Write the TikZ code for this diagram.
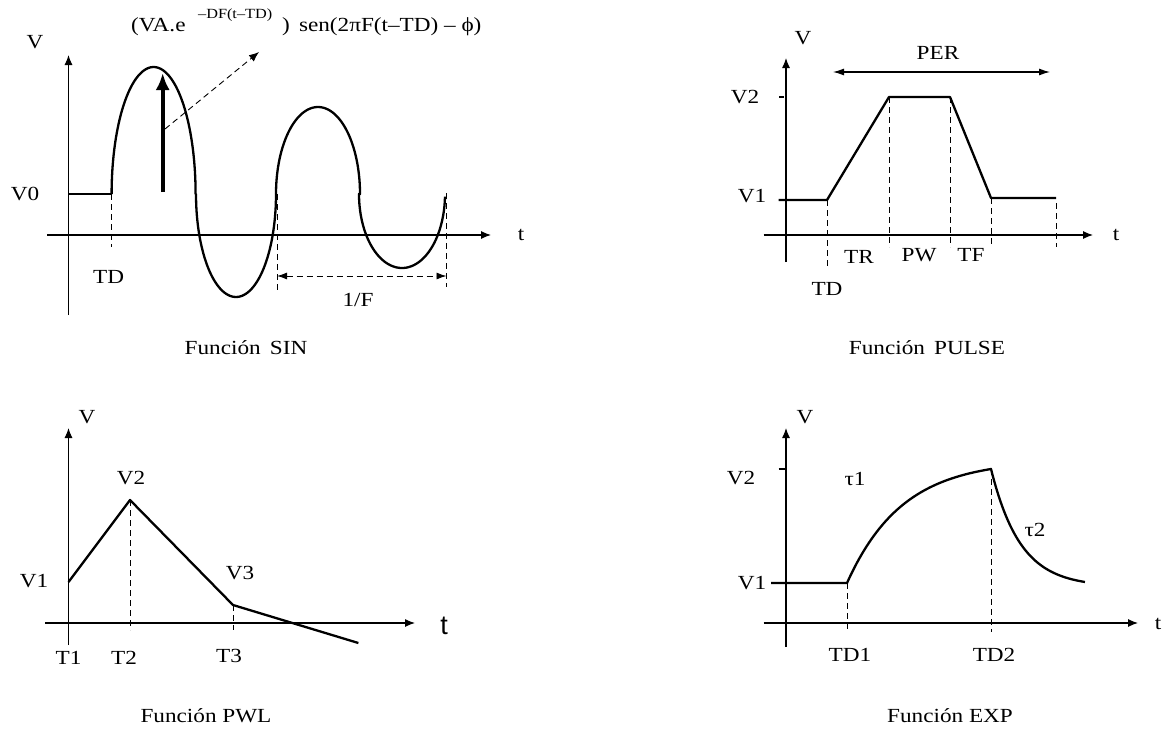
\documentclass[tikz,border=0pt]{standalone}
\usepackage{fontspec}
\setmainfont[FakeStretch=1.16]{Liberation Serif}
\newfontfamily\arialfont{Liberation Sans}
\usetikzlibrary{arrows.meta}
\begin{document}
\begin{tikzpicture}[x=1pt,y=-1pt,
  axis/.style={line width=1.1pt,-{Latex[length=10pt,width=8pt]}},
  wave/.style={line width=2.3pt,line join=round},
  guide/.style={line width=0.9pt,dash pattern=on 6pt off 4pt},
  tick/.style={line width=1.1pt},
  lbl/.style={font=\fontsize{20}{24}\selectfont,inner sep=0pt},
  small/.style={font=\fontsize{14}{17}\selectfont,inner sep=0pt}]
\useasboundingbox (0,0) rectangle (1164,728);

% ================= SIN =================
\coordinate (s-yb) at (68.5,315); \coordinate (s-yt) at (68.5,55);
\coordinate (s-xl) at (47,235);   \coordinate (s-xr) at (491,235);
\draw[axis] (s-yb) -- (s-yt);
\draw[axis] (s-xl) -- (s-xr);
\node[lbl] (s-V) at (35,42) {V};
\node[lbl] (s-t) at (521,235) {t};
\node[lbl] (s-V0) at (25,194) {V0};
\coordinate (s-o) at (68.5,194); \coordinate (s-td) at (111.6,194);
\draw[wave] (s-o) -- (s-td);
\draw[wave] plot[domain=180:360,samples=70] ({153.6+42*cos(\x)},{194+127*sin(\x)})
  -- plot[domain=180:0,samples=70] ({236+40*cos(\x)},{194+103*sin(\x)});
\draw[wave] plot[domain=180:360,samples=70] ({318+42*cos(\x)},{194+87*sin(\x)})
  -- plot[domain=180:2,samples=70] ({402+43*cos(\x)},{194+74*sin(\x)});
\coordinate (s-tdb) at (111.6,247);
\draw[guide] (s-td) -- (s-tdb);
\node[lbl] (s-TD) at (108.6,277) {TD};
\coordinate (s-p1t) at (277,194); \coordinate (s-p1b) at (277,290);
\coordinate (s-p2t) at (446.5,193); \coordinate (s-p2b) at (446.5,287);
\draw[guide] (s-p1t) -- (s-p1b);
\draw[guide] (s-p2t) -- (s-p2b);
\coordinate (s-fl) at (277,276); \coordinate (s-fr) at (446.5,276);
\draw[guide,{Latex[length=10pt,width=7pt]}-{Latex[length=10pt,width=7pt]}] (s-fl) -- (s-fr);
\node[lbl] (s-F) at (358,300) {1/F};
\coordinate (s-ab) at (162.7,192); \coordinate (s-at) at (162.7,73);
\draw[line width=3.6pt,-{Latex[length=17pt,width=14pt]}] (s-ab) -- (s-at);
\coordinate (s-db) at (165,129); \coordinate (s-dt) at (259,52);
\draw[guide,-{Latex[length=10pt,width=8pt]}] (s-db) -- (s-dt);
\node[lbl,anchor=west] (s-f1) at (131,27) {(VA.e};
\node[small,anchor=west] (s-f2) at (198,15) {–DF(t–TD)};
\node[lbl,anchor=west] (s-f3) at (282,27) {)\, sen(2πF(t–TD) – ϕ)};
\node[lbl] (s-cap) at (246,348) {Función\, SIN};

% ================= PULSE =================
\coordinate (p-yb) at (786,262); \coordinate (p-yt) at (786,58);
\coordinate (p-xl) at (763.5,235); \coordinate (p-xr) at (1093,235);
\draw[axis] (p-yb) -- (p-yt);
\draw[axis] (p-xl) -- (p-xr);
\node[lbl] (p-V) at (803,38) {V};
\node[lbl] (p-t) at (1116,235) {t};
\node[lbl] (p-V2) at (745,97) {V2};
\node[lbl] (p-V1) at (752,196) {V1};
\coordinate (p-v2a) at (779,97); \coordinate (p-v2b) at (784,97);
\draw[tick] (p-v2a) -- (p-v2b);
\coordinate (p-a) at (778.5,200); \coordinate (p-b) at (827,200);
\coordinate (p-c) at (889,97); \coordinate (p-d) at (950,97);
\coordinate (p-e) at (991,198); \coordinate (p-f) at (1056,198);
\draw[wave] (p-a) -- (p-b) -- (p-c) -- (p-d) -- (p-e) -- (p-f);
\coordinate (p-bb) at (827,268); \coordinate (p-cb) at (889,247);
\coordinate (p-db) at (950,247); \coordinate (p-eb) at (991,247);
\coordinate (p-ft) at (1056,203); \coordinate (p-fb) at (1056,247);
\draw[guide] (p-b) -- (p-bb);
\draw[guide] (p-c) -- (p-cb);
\draw[guide] (p-d) -- (p-db);
\draw[guide] (p-e) -- (p-eb);
\draw[guide] (p-ft) -- (p-fb);
\coordinate (p-pl) at (833,72); \coordinate (p-pr) at (1050,72);
\draw[line width=1.1pt,{Latex[length=11pt,width=7pt]}-{Latex[length=11pt,width=7pt]}] (p-pl) -- (p-pr);
\node[lbl] (p-PER) at (938,53) {PER};
\node[lbl] (p-TR) at (859,257) {TR};
\node[lbl] (p-PW) at (919,255) {PW};
\node[lbl] (p-TF) at (971,255) {TF};
\node[lbl] (p-TD) at (827,289) {TD};
\node[lbl] (p-cap) at (927,348) {Función\, PULSE};

% ================= PWL =================
\coordinate (w-yb) at (68.5,645); \coordinate (w-yt) at (68.5,428);
\coordinate (w-xl) at (45,623); \coordinate (w-xr) at (415,623);
\draw[axis] (w-yb) -- (w-yt);
\draw[axis] (w-xl) -- (w-xr);
\node[lbl] (w-V) at (87,417) {V};
\node[font=\arialfont\fontsize{27}{30}\selectfont,inner sep=0pt] (w-t) at (444,626) {t};
\coordinate (w-a) at (68.5,582); \coordinate (w-b) at (130,500);
\coordinate (w-c) at (233,605); \coordinate (w-d) at (358.4,643);
\draw[wave] (w-a) -- (w-b) -- (w-c) -- (w-d);
\coordinate (w-bb) at (130,630); \coordinate (w-cb) at (233,630);
\draw[guide] (w-b) -- (w-bb);
\draw[guide] (w-c) -- (w-cb);
\node[lbl] (w-V1) at (34,581) {V1};
\node[lbl] (w-V2) at (131,478) {V2};
\node[lbl] (w-V3) at (240,573) {V3};
\node[lbl] (w-T1) at (68.5,658) {T1};
\node[lbl] (w-T2) at (124,658) {T2};
\node[lbl] (w-T3) at (229,656) {T3};
\node[lbl] (w-cap) at (206,716) {Función PWL};

% ================= EXP =================
\coordinate (e-yb) at (786,647); \coordinate (e-yt) at (786,428);
\coordinate (e-xl) at (763.5,623); \coordinate (e-xr) at (1138,623);
\draw[axis] (e-yb) -- (e-yt);
\draw[axis] (e-xl) -- (e-xr);
\node[lbl] (e-V) at (805,417) {V};
\node[lbl] (e-t) at (1158,624) {t};
\node[lbl] (e-V2) at (741,478) {V2};
\node[lbl] (e-V1) at (752,583) {V1};
\coordinate (e-v2a) at (778.5,469); \coordinate (e-v2b) at (786,469);
\draw[tick] (e-v2a) -- (e-v2b);
\coordinate (e-a) at (771,583); \coordinate (e-b) at (847,583);
\coordinate (e-c) at (991,469);
\draw[wave] (e-a) -- (e-b)
  -- plot[domain=0:1,samples=60] ({847+144*\x},{583-114*(1-exp(-2.6*\x))/(1-exp(-2.6))})
  -- plot[domain=0:1,samples=60] ({991+94*\x},{469+113*(1-exp(-3.2*\x))/(1-exp(-3.2))});
\coordinate (e-bb) at (847,632); \coordinate (e-cb) at (991,632);
\draw[guide] (e-b) -- (e-bb);
\draw[guide] (e-c) -- (e-cb);
\node[lbl] (e-tau1) at (855,479) {τ1};
\node[lbl] (e-tau2) at (1035,530) {τ2};
\node[lbl] (e-TD1) at (850,655) {TD1};
\node[lbl] (e-TD2) at (994,655) {TD2};
\node[lbl] (e-cap) at (950,716) {Función EXP};
\end{tikzpicture}
\end{document}
